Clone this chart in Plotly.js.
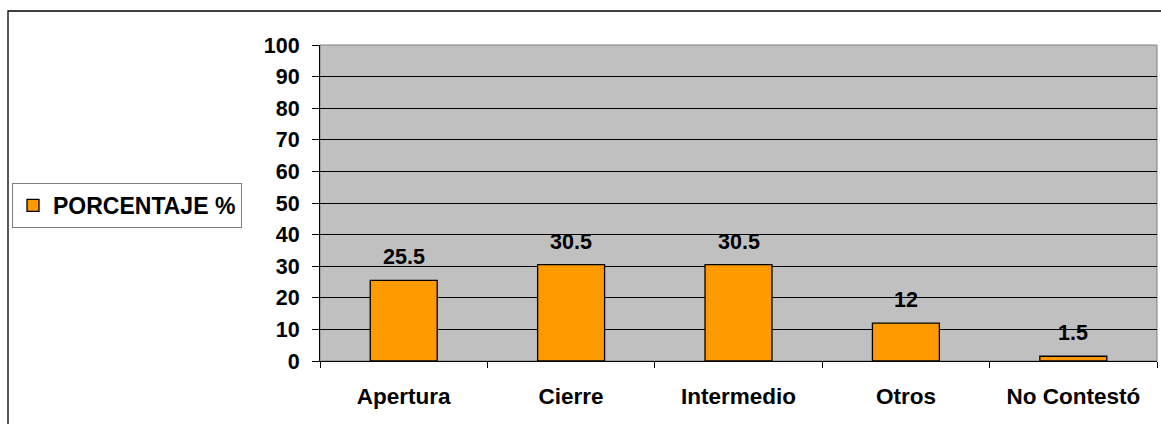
<!DOCTYPE html>
<html>
<head>
<meta charset="utf-8">
<script src="https://cdn.plot.ly/plotly-3.0.1.min.js"></script>
<style>
html,body{margin:0;padding:0;background:#fff;}
#chart{width:1161px;height:424px;}
</style>
</head>
<body>
<div id="chart"></div>
<script>
const categories = ["Apertura", "Cierre", "Intermedio", "Otros", "No Contestó"];
const porcentaje = [25.5, 30.5, 30.5, 12, 1.5];
const seriesName = "PORCENTAJE %";
const yTicks = [0, 10, 20, 30, 40, 50, 60, 70, 80, 90, 100];

const FONT = "Liberation Sans, Arial, sans-serif";

const trace = {
  type: "bar",
  x: categories,
  y: porcentaje,
  name: seriesName,
  marker: {color: "#ff9900", line: {color: "#000000", width: 1.3}},
  showlegend: true,
  hoverinfo: "none"
};

const annotations = categories.map((c, i) => ({
  x: c, y: porcentaje[i], xref: "x", yref: "y",
  text: "<b>" + porcentaje[i] + "</b>",
  showarrow: false, yanchor: "bottom", xanchor: "center", yshift: 9,
  font: {family: FONT, size: 21.5, color: "#000"}
}));

const plotW = 837, plotH = 316, ml = 320, mt = 45;
const layout = {
  width: 1161, height: 424,
  margin: {l: ml, r: 1161 - ml - plotW, t: mt, b: 424 - mt - plotH, pad: 0},
  paper_bgcolor: "#ffffff",
  plot_bgcolor: "#c0c0c0",
  bargap: 0.6,
  font: {family: FONT, size: 21, color: "#000", weight: "bold"},
  xaxis: {
    type: "category",
    tickson: "boundaries",
    ticks: "outside", ticklen: 6, tickcolor: "#000", tickwidth: 1,
    showline: true, linecolor: "#000", linewidth: 1,
    showgrid: false, zeroline: false,
    tickfont: {family: FONT, size: 22.5, color: "#000", weight: "bold"},
    ticklabelstandoff: 15,
    fixedrange: true
  },
  yaxis: {
    range: [0, 100],
    tickmode: "array", tickvals: yTicks, ticktext: yTicks.map(String),
    ticks: "outside", ticklen: 7, tickcolor: "#000", tickwidth: 1,
    showline: true, linecolor: "#000", linewidth: 1,
    showgrid: true, gridcolor: "#000", gridwidth: 1,
    zeroline: false,
    tickfont: {family: FONT, size: 21.5, color: "#000", weight: "bold"},
    ticklabelstandoff: 8,
    fixedrange: true
  },
  legend: {
    x: (12 - ml) / plotW, xanchor: "left",
    y: (361 - 183) / plotH, yanchor: "top",
    bgcolor: "#ffffff", bordercolor: "#808080", borderwidth: 1,
    font: {family: FONT, size: 23, color: "#000", weight: "bold"},
    itemwidth: 30
  },
  annotations: annotations,
  shapes: [
    {type: "rect", xref: "paper", yref: "paper", x0: 0, x1: 1, y0: 0, y1: 1,
     line: {color: "#808080", width: 1}, layer: "below"},
    {type: "rect", xref: "paper", yref: "paper",
     x0: (8 - ml) / plotW, x1: 2, y0: -2, y1: (361 - 11) / plotH,
     line: {color: "#000", width: 1.3}, fillcolor: "rgba(0,0,0,0)"}
  ],
  showlegend: true
};

Plotly.newPlot("chart", [trace], layout, {displayModeBar: false, staticPlot: true});
</script>
</body>
</html>
